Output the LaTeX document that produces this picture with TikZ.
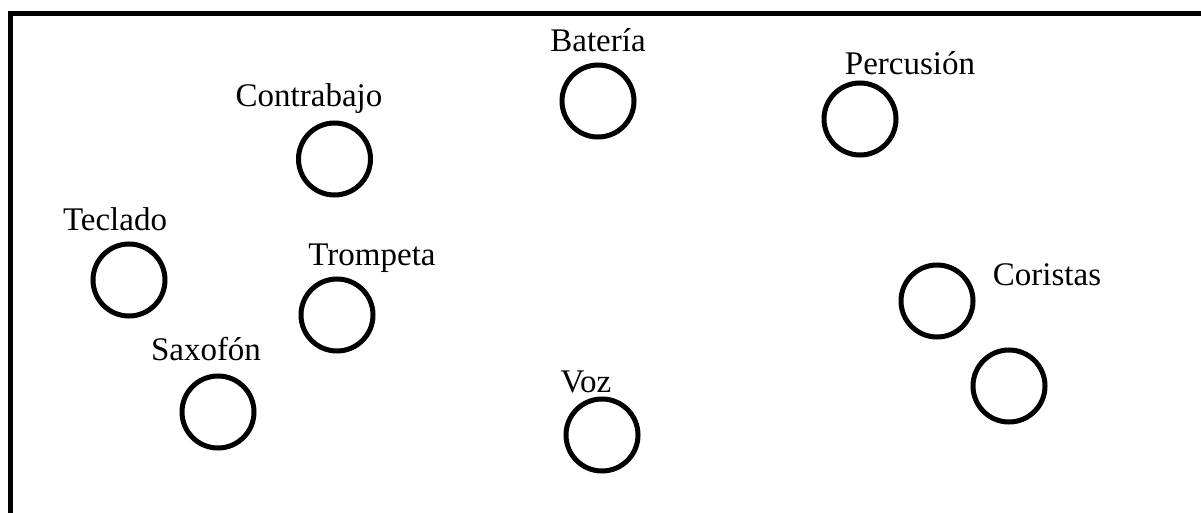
\documentclass[tikz,border=0pt]{standalone}
\usepackage{fontspec}
\setmainfont{Liberation Serif}
\begin{document}
\begin{tikzpicture}[x=1pt,y=-1pt,
  seat/.style={circle,draw,line width=5pt,minimum size=72pt,inner sep=0pt},
  lbl/.style={anchor=base,inner sep=0pt,font=\fontsize{33}{36}\selectfont}]
\useasboundingbox (0,0) rectangle (1201,513);
\coordinate (bl) at (10.8,513);
\coordinate (tl) at (10.8,13.5);
\coordinate (tr) at (1201,13.5);
\draw[line width=5pt,line join=miter] (bl) -- (tl) -- (tr);
% seats
\node[seat] (bat) at (598,101) {};
\node[seat] (con) at (334.5,159) {};
\node[seat] (per) at (860,119) {};
\node[seat] (tec) at (129,280) {};
\node[seat] (tro) at (337,315) {};
\node[seat] (sax) at (218,412) {};
\node[seat] (voz) at (602,435) {};
\node[seat] (cor1) at (937,301) {};
\node[seat] (cor2) at (1009,386) {};
% labels
\node[lbl] (tbat) at (598,52) {Batería};
\node[lbl] (tcon) at (309,107) {Contrabajo};
\node[lbl] (tper) at (910,75) {Percusión};
\node[lbl] (ttec) at (115,230) {Teclado};
\node[lbl] (ttro) at (372,265) {Trompeta};
\node[lbl] (tsax) at (206,360) {Saxofón};
\node[lbl] (tvoz) at (586,392) {Voz};
\node[lbl] (tcor) at (1047,285) {Coristas};
\end{tikzpicture}
\end{document}
